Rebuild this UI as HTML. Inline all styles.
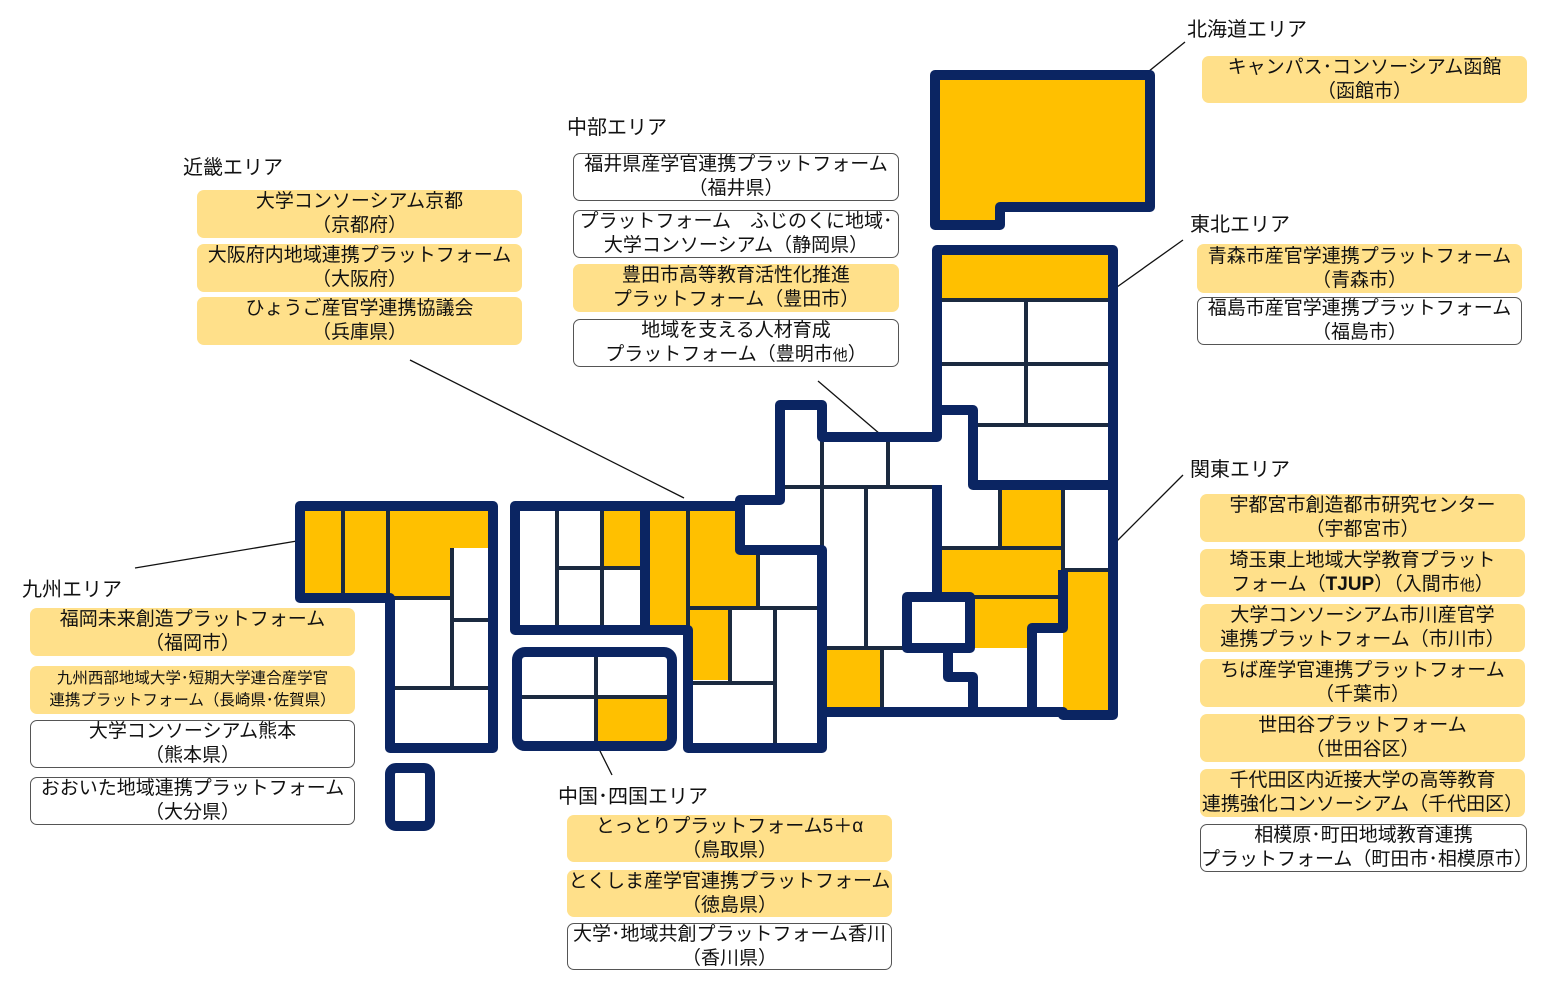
<!DOCTYPE html>
<html><head><meta charset="utf-8"><style>
body{margin:0;width:1554px;height:988px;background:#fff;position:relative;overflow:hidden;font-family:"Liberation Sans","Noto Sans CJK JP",sans-serif;}
.t{position:absolute;font-size:20px;color:#111;white-space:nowrap;}
.b{position:absolute;box-sizing:border-box;border-radius:7px;text-align:center;font-size:19px;line-height:24px;color:#111;white-space:nowrap;display:flex;flex-direction:column;justify-content:center;}
.y{background:#ffe08a;}
.w{background:#fff;border:1px solid #555;}
.s{font-size:15.5px;line-height:22px;}
svg{position:absolute;left:0;top:0;}
</style></head><body>
<svg width="1554" height="988" viewBox="0 0 1554 988">
<g stroke="#111" stroke-width="1.3">
<line x1="1185" y1="42" x2="1143" y2="76"/>
<line x1="1183" y1="240" x2="1117" y2="287"/>
<line x1="1183" y1="475" x2="1117" y2="541"/>
<line x1="818" y1="381" x2="880" y2="434"/>
<line x1="410" y1="360" x2="684" y2="498"/>
<line x1="135" y1="568" x2="297" y2="541"/>
<line x1="597" y1="745" x2="612" y2="775"/>
</g>
<g fill="#ffc000">
<polygon points="935,75 1150,75 1150,207 1000,207 1000,225 935,225"/>
<rect x="937" y="250" width="176" height="50"/>
<polygon points="300,506 493,506 493,548 452,548 452,598 300,598"/>
<rect x="602" y="506" width="40" height="62"/>
<rect x="645" y="506" width="43" height="124"/>
<polygon points="688,506 740,506 740,550 758,550 758,608 688,608"/>
<rect x="688" y="608" width="42" height="72"/>
<rect x="598" y="698" width="74" height="48"/>
<rect x="825" y="650" width="57" height="62"/>
<rect x="1000" y="487" width="63" height="61"/>
<rect x="937" y="548" width="126" height="49"/>
<polygon points="970,597 1063,597 1063,628 1032,628 1032,648 970,648"/>
<rect x="1063" y="570" width="50" height="144"/>
</g>
<g stroke="#1b2a40" stroke-width="4" fill="none">
<line x1="343" y1="506" x2="343" y2="598"/>
<line x1="388" y1="506" x2="388" y2="598"/>
<line x1="388" y1="598" x2="452" y2="598"/>
<line x1="452" y1="548" x2="452" y2="688"/>
<line x1="452" y1="620" x2="493" y2="620"/>
<line x1="390" y1="688" x2="493" y2="688"/>
<line x1="557" y1="506" x2="557" y2="630"/>
<line x1="602" y1="506" x2="602" y2="630"/>
<line x1="557" y1="568" x2="645" y2="568"/>
<line x1="688" y1="506" x2="688" y2="630"/>
<line x1="758" y1="550" x2="758" y2="610"/>
<line x1="688" y1="608" x2="822" y2="608"/>
<line x1="730" y1="608" x2="730" y2="683"/>
<line x1="775" y1="608" x2="775" y2="748"/>
<line x1="688" y1="683" x2="775" y2="683"/>
<line x1="596" y1="652" x2="596" y2="746"/>
<line x1="517" y1="697" x2="670" y2="697"/>
<line x1="937" y1="300" x2="1113" y2="300"/>
<line x1="937" y1="364" x2="1113" y2="364"/>
<line x1="973" y1="425" x2="1113" y2="425"/>
<line x1="1026" y1="300" x2="1026" y2="425"/>
<line x1="780" y1="487" x2="937" y2="487"/>
<line x1="822" y1="437" x2="822" y2="550"/>
<line x1="888" y1="437" x2="888" y2="487"/>
<line x1="866" y1="487" x2="866" y2="648"/>
<line x1="822" y1="648" x2="907" y2="648"/>
<line x1="882" y1="648" x2="882" y2="712"/>
<line x1="1000" y1="487" x2="1000" y2="548"/>
<line x1="937" y1="548" x2="1063" y2="548"/>
<line x1="1063" y1="487" x2="1063" y2="597"/>
<line x1="970" y1="597" x2="1063" y2="597"/>
<line x1="1063" y1="570" x2="1113" y2="570"/>
</g>
<g stroke="#0b2562" stroke-width="10" fill="none" stroke-linejoin="round">
<polygon points="935,75 1150,75 1150,207 1000,207 1000,225 935,225"/>
<polygon points="300,506 493,506 493,748 390,748 390,598 300,598"/>
<rect x="390" y="768" width="40" height="58" rx="6"/>
<rect x="517" y="652" width="155" height="94" rx="8"/>
<polygon points="515,506 740,506 740,500 780,500 780,405 822,405 822,437 937,437 937,250 1113,250 1113,715 1063,715 1063,712 822,712 822,748 688,748 688,630 515,630"/>
<polyline points="645,506 645,630"/>
<polyline points="740,506 740,550 822,550 822,712"/>
<polyline points="937,437 937,410 973,410 973,485 1113,485"/>
<polyline points="937,485 937,597 907,597 907,648 948,648 948,677 973,677 973,712"/>
<polyline points="937,597 970,597 970,648 948,648"/>
<polyline points="1032,712 1032,628 1063,628 1063,570"/>
</g>
</svg>

<div class="t" style="left:1187px;top:13px">北海道エリア</div>
<div class="b y" style="left:1202px;top:56px;width:325px;height:47px"><div>キャンパス･コンソーシアム函館</div><div>（函館市）</div></div>

<div class="t" style="left:1190px;top:208px">東北エリア</div>
<div class="b y" style="left:1197px;top:244px;width:325px;height:49px"><div>青森市産官学連携プラットフォーム</div><div>（青森市）</div></div>
<div class="b w" style="left:1197px;top:297px;width:325px;height:48px"><div>福島市産官学連携プラットフォーム</div><div>（福島市）</div></div>

<div class="t" style="left:1190px;top:453px">関東エリア</div>
<div class="b y" style="left:1200px;top:494px;width:325px;height:48px"><div>宇都宮市創造都市研究センター</div><div>（宇都宮市）</div></div>
<div class="b y" style="left:1200px;top:549px;width:325px;height:48px"><div>埼玉東上地域大学教育プラット</div><div>フォーム（<b>TJUP</b>）（入間市<span style="font-size:15px">他</span>）</div></div>
<div class="b y" style="left:1200px;top:604px;width:325px;height:48px"><div>大学コンソーシアム市川産官学</div><div>連携プラットフォーム（市川市）</div></div>
<div class="b y" style="left:1200px;top:659px;width:325px;height:48px"><div>ちば産学官連携プラットフォーム</div><div>（千葉市）</div></div>
<div class="b y" style="left:1200px;top:714px;width:325px;height:48px"><div>世田谷プラットフォーム</div><div>（世田谷区）</div></div>
<div class="b y" style="left:1200px;top:769px;width:325px;height:48px"><div>千代田区内近接大学の高等教育</div><div>連携強化コンソーシアム（千代田区）</div></div>
<div class="b w" style="left:1200px;top:824px;width:327px;height:48px"><div>相模原･町田地域教育連携</div><div>プラットフォーム（町田市･相模原市）</div></div>

<div class="t" style="left:567px;top:111px">中部エリア</div>
<div class="b w" style="left:573px;top:153px;width:326px;height:48px"><div>福井県産学官連携プラットフォーム</div><div>（福井県）</div></div>
<div class="b w" style="left:573px;top:210px;width:326px;height:48px"><div>プラットフォーム　ふじのくに地域･</div><div>大学コンソーシアム（静岡県）</div></div>
<div class="b y" style="left:573px;top:264px;width:326px;height:48px"><div>豊田市高等教育活性化推進</div><div>プラットフォーム（豊田市）</div></div>
<div class="b w" style="left:573px;top:319px;width:326px;height:48px"><div>地域を支える人材育成</div><div>プラットフォーム（豊明市<span style="font-size:15px">他</span>）</div></div>

<div class="t" style="left:183px;top:151px">近畿エリア</div>
<div class="b y" style="left:197px;top:190px;width:325px;height:48px"><div>大学コンソーシアム京都</div><div>（京都府）</div></div>
<div class="b y" style="left:197px;top:244px;width:325px;height:48px"><div>大阪府内地域連携プラットフォーム</div><div>（大阪府）</div></div>
<div class="b y" style="left:197px;top:297px;width:325px;height:48px"><div>ひょうご産官学連携協議会</div><div>（兵庫県）</div></div>

<div class="t" style="left:22px;top:573px">九州エリア</div>
<div class="b y" style="left:30px;top:608px;width:325px;height:48px"><div>福岡未来創造プラットフォーム</div><div>（福岡市）</div></div>
<div class="b y s" style="left:30px;top:666px;width:325px;height:48px"><div>九州西部地域大学･短期大学連合産学官</div><div>連携プラットフォーム（長崎県･佐賀県）</div></div>
<div class="b w" style="left:30px;top:720px;width:325px;height:48px"><div>大学コンソーシアム熊本</div><div>（熊本県）</div></div>
<div class="b w" style="left:30px;top:777px;width:325px;height:48px"><div>おおいた地域連携プラットフォーム</div><div>（大分県）</div></div>

<div class="t" style="left:558px;top:780px">中国･四国エリア</div>
<div class="b y" style="left:567px;top:815px;width:325px;height:47px"><div>とっとりプラットフォーム5＋α</div><div>（鳥取県）</div></div>
<div class="b y" style="left:567px;top:870px;width:325px;height:47px"><div>とくしま産学官連携プラットフォーム</div><div>（徳島県）</div></div>
<div class="b w" style="left:567px;top:923px;width:325px;height:47px"><div>大学･地域共創プラットフォーム香川</div><div>（香川県）</div></div>
</body></html>
